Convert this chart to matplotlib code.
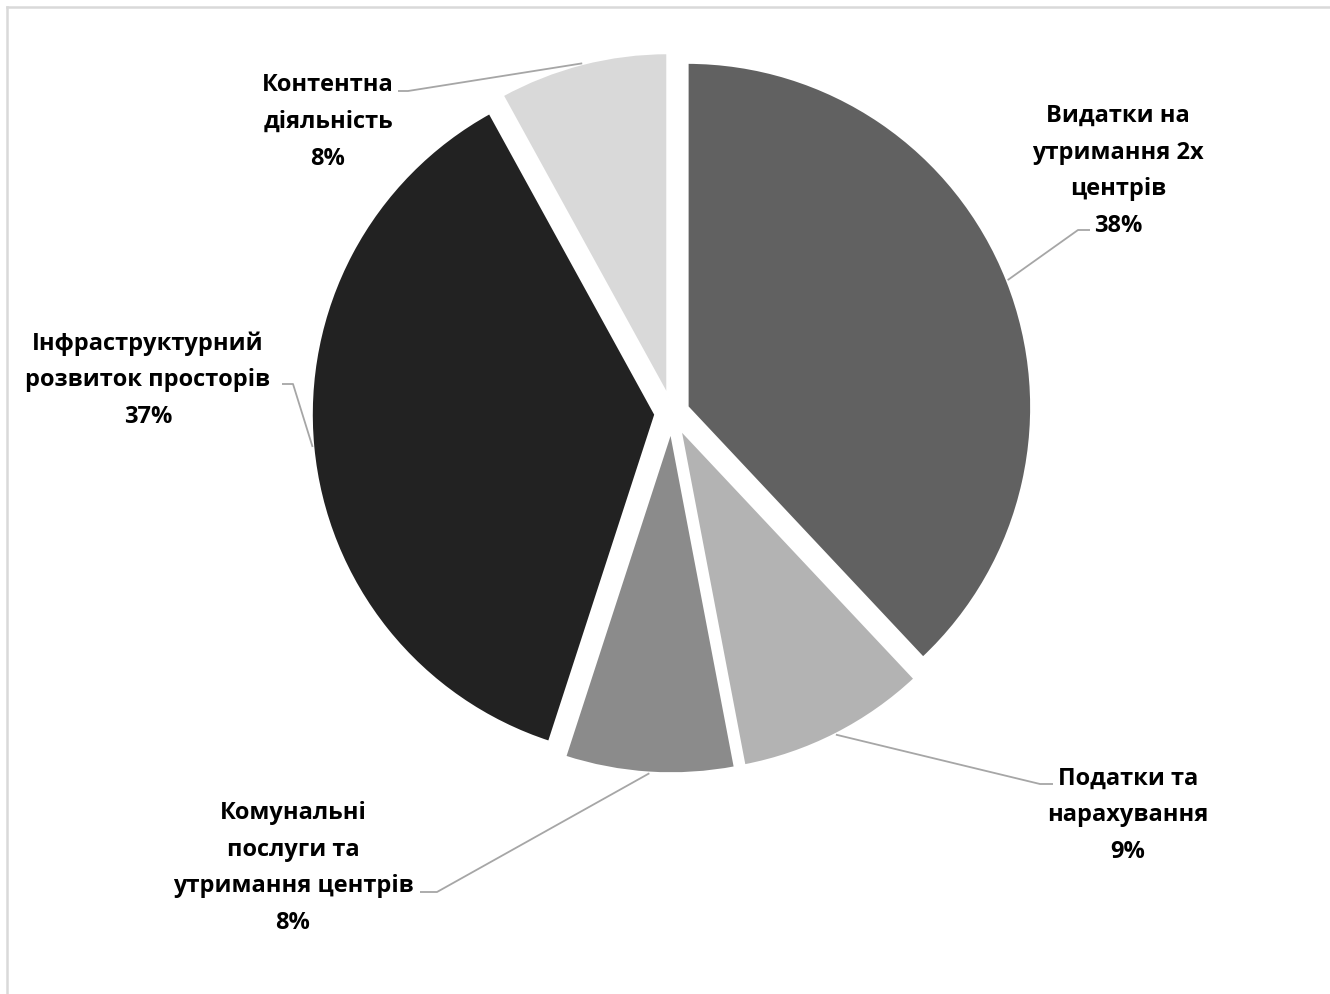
import matplotlib.pyplot as plt
import numpy as np

# data
labels = ['Видатки на\nутримання 2х\nцентрів', 'Податки та\nнарахування',
          'Комунальні\nпослуги та\nутримання центрів',
          'Інфраструктурний\nрозвиток просторів', 'Контентна\nдіяльність']
shares = [38, 9, 8, 37, 8]
colors = ['#616161', '#b3b3b3', '#8b8b8b', '#222222', '#d9d9d9']

W, H = 1330, 995
fig = plt.figure(figsize=(13.3, 9.95), dpi=100)
ax = fig.add_axes([0, 0, 1, 1])

# pie drawn in pixel-like data units (y up)
cx, cy, r = 672, H - 414, 345
wedges, _ = ax.pie(shares, colors=colors, startangle=90, counterclock=False,
                   explode=[16] * len(shares), radius=r, center=(cx, cy), frame=True,
                   wedgeprops=dict(edgecolor='white', linewidth=2.5))
ax.set_aspect('equal')
ax.set_xlim(0, W)
ax.set_ylim(0, H)
ax.axis('off')

# label layout: text centre, elbow of leader line, end of short stub (image px)
text_pos = [(1118, 171), (1128, 815), (293, 868), (148, 380), (328, 122)]
elbows = [(1078, 231, 1090), (1040, 785, 1053), (437, 893, 420),
          (293, 385, 282), (408, 92, 398)]

for w, lab, v, tp, el in zip(wedges, labels, shares, text_pos, elbows):
    th = np.deg2rad((w.theta1 + w.theta2) / 2)
    x0 = w.center[0] + w.r * np.cos(th)
    y0 = w.center[1] + w.r * np.sin(th)
    ex, ey, sx = el
    ax.plot([x0, ex, sx], [y0, H - ey, H - ey], color='#a6a6a6', lw=1.3,
            solid_capstyle='butt', zorder=4)
    ax.text(tp[0], H - tp[1], f'{lab}\n{v}%', ha='center', va='center',
            multialignment='center', fontsize=17, fontweight='bold',
            family=['Open Sans', 'DejaVu Sans'], linespacing=1.7, color='black')

# chart frame (only top and left edges are visible in the crop)
fig.add_artist(plt.Line2D([6.5 / W, 6.5 / W], [0, (H - 7.5) / H],
                          transform=fig.transFigure, color='#d9d9d9', lw=1.8))
fig.add_artist(plt.Line2D([6.5 / W, 1], [(H - 7.5) / H, (H - 7.5) / H],
                          transform=fig.transFigure, color='#d9d9d9', lw=1.8))

fig.savefig('out.png', dpi=100, facecolor='white')
